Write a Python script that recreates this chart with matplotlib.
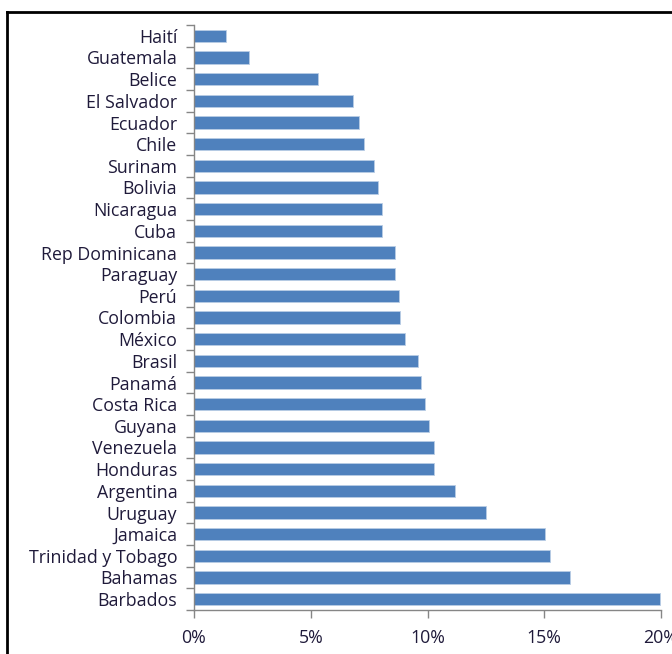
import matplotlib.pyplot as plt
from matplotlib.lines import Line2D
from matplotlib.ticker import FixedLocator, FuncFormatter
import numpy as np

# shares by country, top to bottom as in the chart
countries = [
    "Haití", "Guatemala", "Belice", "El Salvador", "Ecuador", "Chile",
    "Surinam", "Bolivia", "Nicaragua", "Cuba", "Rep Dominicana", "Paraguay",
    "Perú", "Colombia", "México", "Brasil", "Panamá", "Costa Rica", "Guyana",
    "Venezuela", "Honduras", "Argentina", "Uruguay", "Jamaica",
    "Trinidad y Tobago", "Bahamas", "Barbados",
]
values = [
    1.37, 2.37, 5.33, 6.8, 7.08, 7.28,
    7.7, 7.86, 8.04, 8.04, 8.62, 8.62,
    8.76, 8.83, 9.05, 9.58, 9.74, 9.88, 10.08,
    10.29, 10.29, 11.17, 12.5, 15.03,
    15.25, 16.1, 19.97,
]
xticks = [0, 5, 10, 15, 20]

BAR_COLOR = "#4F81BD"
TEXT_COLOR = "#1f1a3a"
AXIS_COLOR = "#868686"

plt.rcParams["font.family"] = ["Open Sans", "DejaVu Sans"]

fig = plt.figure(figsize=(6.72, 6.54), dpi=100)
ax = fig.add_axes([194 / 672, 1 - 610 / 654, (661 - 194) / 672, (610 - 25) / 654])

n = len(countries)
pos = np.arange(n)
ax.barh(pos, values, height=0.58, color=BAR_COLOR, edgecolor="#b9cde5", linewidth=0.6)

ax.set_ylim(n - 0.5, -0.5)
ax.set_xlim(0, 20)

ax.set_yticks(pos)
ax.set_yticklabels(countries, fontsize=12.8, color=TEXT_COLOR)
ax.tick_params(axis="y", which="major", length=0, pad=12)
ax.yaxis.set_minor_locator(FixedLocator(np.arange(-0.5, n, 1.0)))
ax.tick_params(axis="y", which="minor", length=6, width=1, color=AXIS_COLOR)

ax.set_xticks(xticks)
ax.xaxis.set_major_formatter(FuncFormatter(lambda v, p: f"{v:.0f}%"))
ax.tick_params(axis="x", length=6, width=1, color=AXIS_COLOR,
               labelsize=12.8, labelcolor=TEXT_COLOR, pad=8)

for side in ["top", "right"]:
    ax.spines[side].set_visible(False)
for side in ["left", "bottom"]:
    ax.spines[side].set_color(AXIS_COLOR)
    ax.spines[side].set_linewidth(1)

# outer frame (top and left edges visible)
fig.add_artist(Line2D([7 / 672, 1], [1 - 12 / 654, 1 - 12 / 654],
                      color="black", linewidth=2, transform=fig.transFigure))
fig.add_artist(Line2D([7 / 672, 7 / 672], [0, 1 - 12 / 654],
                      color="black", linewidth=2, transform=fig.transFigure))

fig.savefig("out.png", dpi=100)
